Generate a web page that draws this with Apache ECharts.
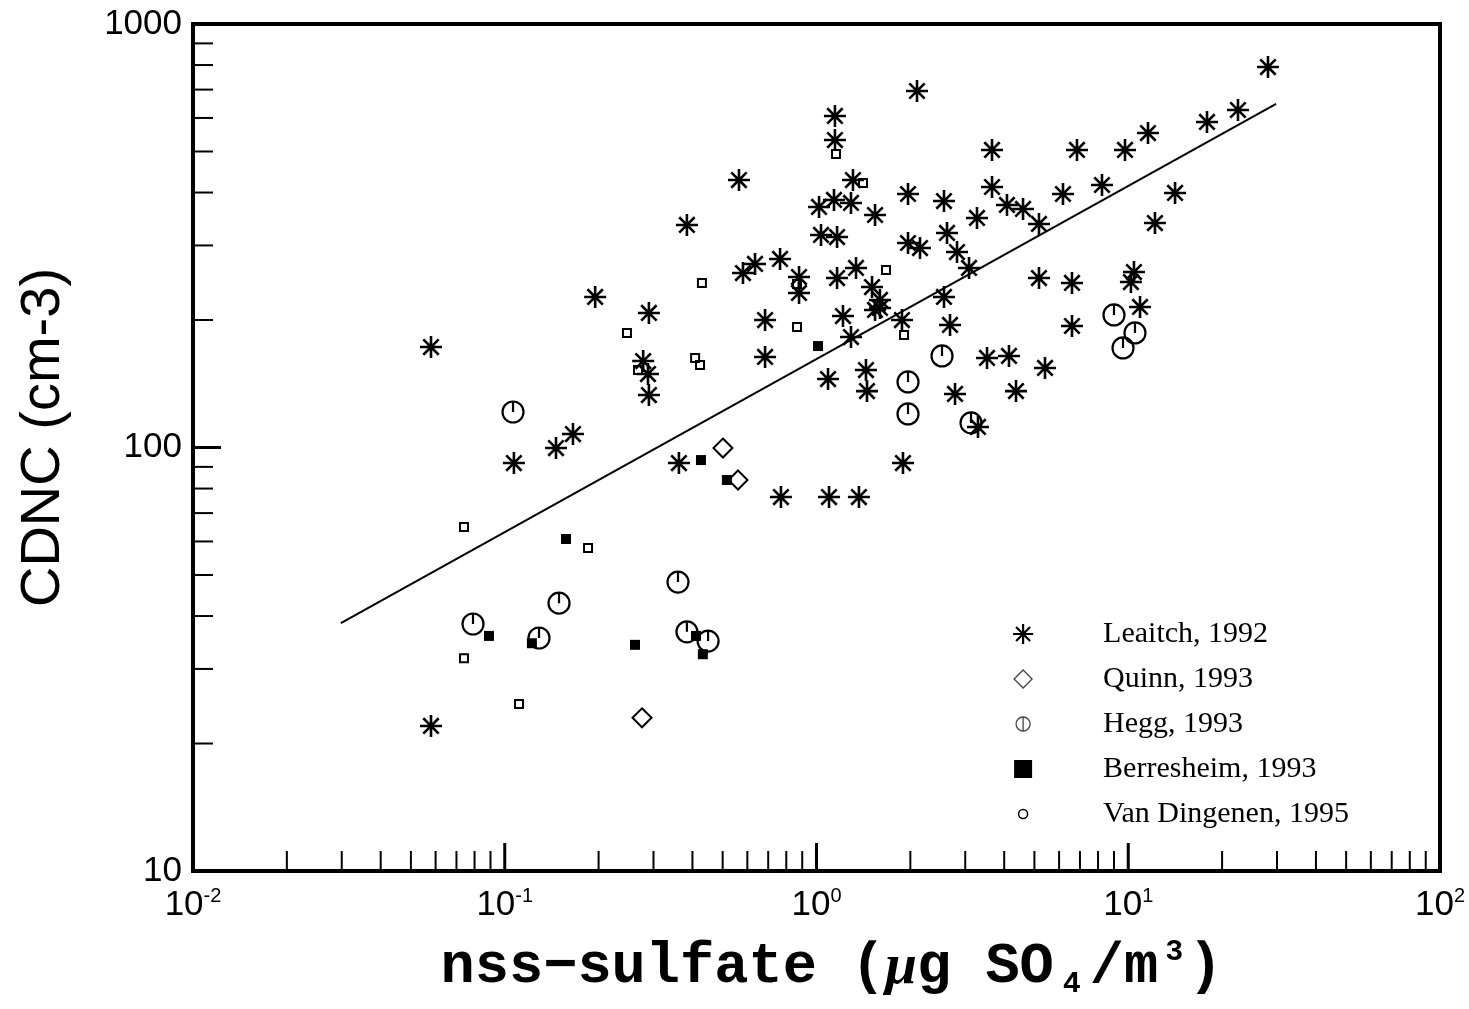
<!DOCTYPE html>
<html><head><meta charset="utf-8">
<script src="https://cdn.jsdelivr.net/npm/echarts@6/dist/echarts.min.js"></script>
<style>html,body{margin:0;padding:0;background:#fff}#c{width:1469px;height:1009px}</style>
</head><body><div id="c"></div>
<script>
// ---- data ----
const leaitchX = [0.0580,0.0580,0.107,0.146,0.1655,0.195,0.278,0.290,0.288,0.290,
  0.362,0.384,0.564,0.581,0.635,0.684,0.684,0.764,0.769,0.879,
  0.879,1.019,1.034,1.097,1.089,1.138,1.146,1.146,1.164,1.164,
  1.216,1.290,1.309,1.290,1.368,1.339,1.441,1.452,1.541,1.507,
  1.598,1.598,1.541,1.880,1.894,1.966,1.966,2.101,2.148,2.564,
  2.622,2.564,2.681,2.782,2.823,3.085,3.296,3.272,3.524,3.656,
  3.656,4.083,4.144,4.597,4.365,5.172,5.172,5.408,6.175,6.600,
  6.600,6.848,8.237,9.763,10.20,10.43,10.91,11.57,12.18,14.13,
  17.89,22.49,28.07];
const leaitchY = [172.7,22.0,91.9,99.7,107.6,226.7,160.0,207.8,149.1,133.0,
  91.9,335.3,428.1,258.2,271.3,200.0,163.6,278.7,76.4,252.7,
  231.7,369.8,317.6,76.4,145.1,384.1,606.5,532.2,314.0,251.3,
  204.4,377.9,428.1,182.3,76.4,265.4,152.4,135.9,354.0,239.3,
  223.0,213.5,211.2,200.0,91.9,396.8,304.0,694.7,295.8,381.9,
  321.1,226.7,194.7,133.8,289.4,265.4,111.8,348.3,162.7,504.1,
  412.2,373.9,164.5,365.8,135.9,337.1,251.3,154.1,396.8,244.6,
  193.6,504.1,416.7,504.1,245.9,259.6,214.7,552.8,338.9,399.0,
  587.0,626.5,791.5];
const quinnX = [0.501,0.560,0.2756];
const quinnY = [99.7,83.8,23.0];
const heggX = [0.1063,0.0791,0.1288,0.1493,0.3595,0.384,0.449,1.966,1.966,2.527,3.131,9.00,10.51,9.62];
const heggY = [121.3,38.3,35.5,42.9,48.1,36.7,34.9,142.8,120.0,164.5,114.3,205.6,186.4,171.8];
const berresX = [0.0890,0.1222,0.1572,0.2617,0.4107,0.426,0.432,0.516,1.011];
const berresY = [35.9,34.5,60.8,34.2,35.9,93.4,32.5,83.8,173.6];
const vandX = [0.0740,0.0740,0.1111,0.185,0.2466,0.2676,0.408,0.423,0.429,0.866,0.866,1.155,1.410,1.671,1.909];
const vandY = [64.9,31.8,24.8,57.9,186.4,152.4,162.7,156.6,244.6,243.3,192.5,493.2,421.2,262.5,184.3];
const fitX = [0.0298, 29.8];
const fitY = [38.5, 647.4];
const seriesNames = ['Leaitch, 1992','Quinn, 1993','Hegg, 1993','Berresheim, 1993','Van Dingenen, 1995'];

// ---- helpers ----
const zip = (a,b) => a.map((v,i)=>[v,b[i]]);
const ASTER = 'path://M0 10L20 10M10 0L10 20M3 3L17 17M17 3L3 17';
const HEGG = 'path://M0 10A10 10 0 1 0 20 10A10 10 0 1 0 0 10ZM10 0L10 10';
const L_ASTER = 'path://M0 0M24 24M2 12L22 12M12 2L12 22M5 5L19 19M19 5L5 19';
const L_DIAM = 'path://M0 0M24 24M12 3L21 12L12 21L3 12Z';
const L_HEGG = 'path://M0 0M24 24M5 12A7 7 0 1 0 19 12A7 7 0 1 0 5 12ZM12 5L12 19';
const L_SQ = 'path://M0 0M24 24M3 3L21 3L21 21L3 21Z';
const L_CIR = 'path://M0 0M24 24M7.5 12A4.5 4.5 0 1 0 16.5 12A4.5 4.5 0 1 0 7.5 12Z';

// log-axis tick marks (decade minor ticks 2..9 and majors)
const tickData = [];
for (let n=-2;n<=1;n++){ for(let k=2;k<=9;k++) tickData.push([k*Math.pow(10,n),10,20,0]); if(n>-2) tickData.push([Math.pow(10,n),10,28,0]); }
for (let n=1;n<=2;n++){ for(let k=2;k<=9;k++) tickData.push([0.01,k*Math.pow(10,n),20,1]); }
tickData.push([0.01,100,28,1]);

const chart = echarts.init(document.getElementById('c'), null, {renderer:'canvas'});
chart.setOption({
  animation:false,
  backgroundColor:'#fff',
  grid:{left:193,right:29,top:24,bottom:138,show:true,borderColor:'#000',borderWidth:4,backgroundColor:'transparent'},
  xAxis:{type:'log',logBase:10,min:0.01,max:100,
    axisLine:{show:true,lineStyle:{color:'#000',width:4}},
    axisTick:{show:false},splitLine:{show:false},minorTick:{show:false},
    axisLabel:{margin:15,showMinLabel:true,showMaxLabel:true,
      formatter:v=>'{b|10}{s|'+Math.round(Math.log10(v))+'}',
      rich:{b:{fontFamily:'Liberation Sans',fontSize:35,lineHeight:38,color:'#000'},
            s:{fontFamily:'Liberation Sans',fontSize:20,lineHeight:20,verticalAlign:'top',color:'#000'}}},
    name:'{a|nss−sulfate (}{mu|μ}{a|g SO}{sub|4}{a|/m}{sup|3}{a|)}',
    nameLocation:'middle',nameGap:66,
    nameTextStyle:{padding:[0,0,0,30],rich:{
      a:{fontFamily:'Liberation Mono',fontWeight:'bold',fontSize:57,lineHeight:62,color:'#000'},
      mu:{fontFamily:'Liberation Serif',fontStyle:'italic',fontWeight:'bold',fontSize:57,lineHeight:62,color:'#000'},
      sub:{fontFamily:'Liberation Mono',fontWeight:'bold',fontSize:30,lineHeight:30,verticalAlign:'bottom',padding:[0,9,0,9],color:'#000'},
      sup:{fontFamily:'Liberation Mono',fontWeight:'bold',fontSize:30,lineHeight:30,verticalAlign:'top',padding:[0,5,0,7],color:'#000'}}}
  },
  yAxis:{type:'log',logBase:10,min:10,max:1000,
    axisLine:{show:true,lineStyle:{color:'#000',width:4}},
    axisTick:{show:false},splitLine:{show:false},minorTick:{show:false},
    axisLabel:{margin:11,showMinLabel:true,showMaxLabel:true,fontFamily:'Liberation Sans',fontSize:35,color:'#000',
      formatter:v=>String(Math.round(v))},
    name:'CDNC (cm-3)',nameLocation:'middle',nameGap:121,
    nameTextStyle:{fontFamily:'Liberation Sans',fontSize:56,color:'#000',padding:[0,0,0,20]}
  },
  legend:{orient:'vertical',left:1005,top:614,itemWidth:24,itemHeight:24,itemGap:15,selectedMode:false,
    formatter:n=>'{sp|}'+n,
    textStyle:{fontFamily:'Liberation Serif',fontSize:30,lineHeight:24,color:'#000',rich:{sp:{width:63}}},
    data:[
      {name:seriesNames[0],icon:L_ASTER,itemStyle:{color:'transparent',borderColor:'#000',borderWidth:2.2,opacity:1}},
      {name:seriesNames[1],icon:L_DIAM,itemStyle:{color:'transparent',borderColor:'#444',borderWidth:1.3,opacity:1}},
      {name:seriesNames[2],icon:L_HEGG,itemStyle:{color:'transparent',borderColor:'#444',borderWidth:1.3,opacity:1}},
      {name:seriesNames[3],icon:L_SQ,itemStyle:{color:'#000',borderColor:'#000',borderWidth:0,opacity:1}},
      {name:seriesNames[4],icon:L_CIR,itemStyle:{color:'transparent',borderColor:'#000',borderWidth:1.5,opacity:1}}
    ]},
  series:[
    {type:'custom',silent:true,z:1,coordinateSystem:'cartesian2d',data:tickData,
      renderItem:(p,api)=>{const c=api.coord([api.value(0),api.value(1)]);const len=api.value(2);const isX=api.value(3)===0;
        return {type:'line',shape:isX?{x1:c[0],y1:c[1],x2:c[0],y2:c[1]-len}:{x1:c[0],y1:c[1],x2:c[0]+len,y2:c[1]},
          style:{stroke:'#000',lineWidth:len>24?3:2}};}},
    {type:'line',name:'fit',data:zip(fitX,fitY),symbol:'none',z:2,lineStyle:{color:'#000',width:2},silent:true},
    {type:'scatter',name:seriesNames[0],data:zip(leaitchX,leaitchY),symbol:ASTER,symbolSize:22,z:3,
      itemStyle:{color:'transparent',borderColor:'#000',borderWidth:2.6,opacity:1}},
    {type:'scatter',name:seriesNames[1],data:zip(quinnX,quinnY),symbol:'diamond',symbolSize:19,z:3,
      itemStyle:{color:'transparent',borderColor:'#000',borderWidth:2,opacity:1}},
    {type:'scatter',name:seriesNames[2],data:zip(heggX,heggY),symbol:HEGG,symbolSize:21,z:3,
      itemStyle:{color:'transparent',borderColor:'#000',borderWidth:2.2,opacity:1}},
    {type:'scatter',name:seriesNames[3],data:zip(berresX,berresY),symbol:'rect',symbolSize:10,z:3,
      itemStyle:{color:'#000',opacity:1}},
    {type:'scatter',name:seriesNames[4],data:zip(vandX,vandY),symbol:'rect',symbolSize:8,z:3,
      itemStyle:{color:'transparent',borderColor:'#000',borderWidth:2,opacity:1}}
  ]
});
</script></body></html>
